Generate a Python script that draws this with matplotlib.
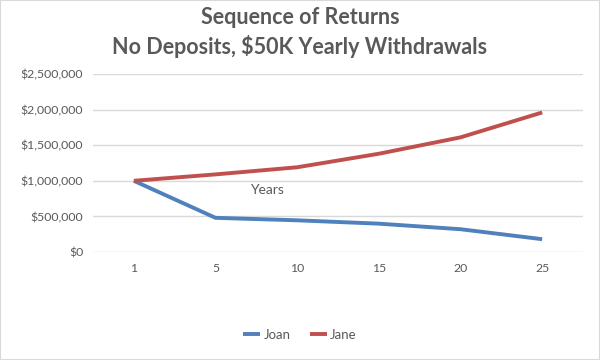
import matplotlib
matplotlib.use("Agg")
import matplotlib.pyplot as plt
from matplotlib.ticker import FuncFormatter
from matplotlib.patches import Rectangle

# data
years = ["1", "5", "10", "15", "20", "25"]
joan = [1000000, 480000, 445000, 398000, 320000, 180000]
jane = [1000000, 1090000, 1190000, 1380000, 1610000, 1960000]
yticks = [0, 500000, 1000000, 1500000, 2000000, 2500000]

plt.rcParams['font.family'] = ['Lato', 'DejaVu Sans']
grau = "#595959"

fig = plt.figure(figsize=(6, 3.6), dpi=100)
ax = fig.add_axes([93/600, 1-252/360, 490/600, 178/360])

x = list(range(len(years)))
ax.plot(x, joan, color="#4F81BD", lw=2.8, solid_capstyle="butt", solid_joinstyle="round", label="Joan")
ax.plot(x, jane, color="#C0504D", lw=2.8, solid_capstyle="butt", solid_joinstyle="round", label="Jane")

ax.set_xlim(-0.5, len(years) - 0.5)
ax.set_ylim(0, 2500000)
ax.set_xticks(x)
ax.set_xticklabels(years)
ax.set_yticks(yticks)
ax.yaxis.set_major_formatter(FuncFormatter(lambda v, p: "${:,.0f}".format(v)))
ax.tick_params(length=0, colors=grau, labelsize=8.8)
ax.tick_params(axis="y", pad=7)
ax.tick_params(axis="x", pad=8)
ax.grid(axis="y", color="#D9D9D9", lw=1)
ax.set_axisbelow(True)
for s in ax.spines.values():
    s.set_visible(False)

# naslov osi stoji usred grafa, kao u originalu
ax.text(0.355, 0.346, "Years", transform=ax.transAxes, ha="center", va="center",
        color=grau, fontsize=10)

fig.text(0.5, 1-18/360, "Sequence of Returns", ha="center", va="center",
         fontsize=15.5, fontweight="bold", color=grau)
fig.text(0.5, 1-47/360, "No Deposits, $50K Yearly Withdrawals", ha="center", va="center",
         fontsize=15.5, fontweight="bold", color=grau)

leg = fig.legend(loc="center", bbox_to_anchor=(0.5, 1-335/360), ncol=2, frameon=False,
                 fontsize=9.5, handlelength=1.3, columnspacing=1.45, handletextpad=0.25)
for t in leg.get_texts():
    t.set_color(grau)

fig.patches.append(Rectangle((0, 0), 1, 1, transform=fig.transFigure, fill=False,
                             edgecolor="#D9D9D9", lw=1.5))

fig.savefig("out.png", dpi=100)
